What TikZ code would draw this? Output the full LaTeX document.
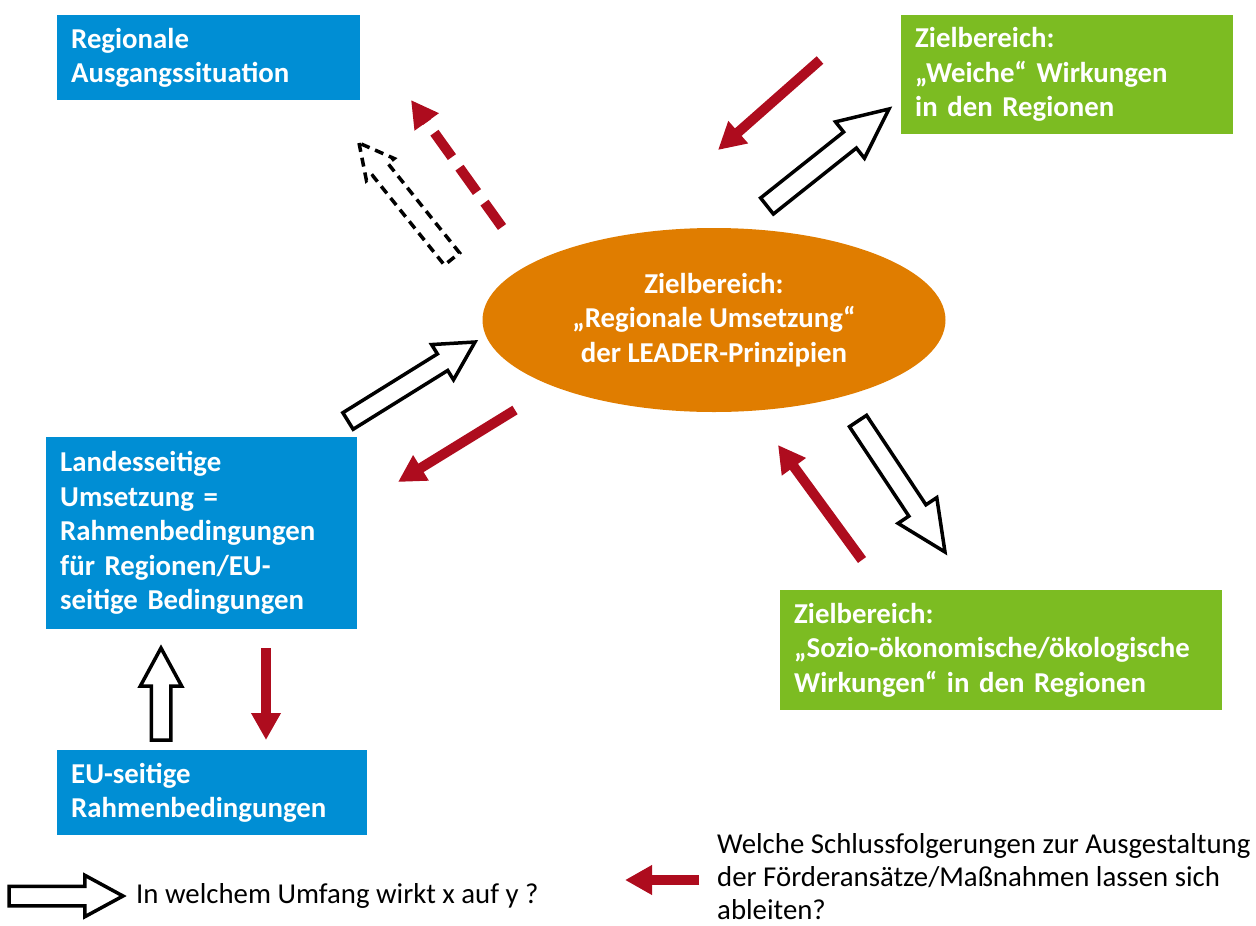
\documentclass[tikz,border=0pt]{standalone}
\usepackage{fontspec}
\setmainfont{Carlito}
\usetikzlibrary{shapes.geometric,shapes.arrows,arrows.meta,calc}
\definecolor{boxblau}{RGB}{0,142,212}
\definecolor{boxgruen}{RGB}{124,188,34}
\definecolor{ovalorange}{RGB}{224,125,0}
\definecolor{pfeilrot}{RGB}{174,12,30}
\tikzstyle{kasten}=[rectangle,anchor=north west,inner xsep=14pt,inner ysep=0pt,align=left,text=white,font=\fontsize{28.8}{34.5}\selectfont\bfseries]
\tikzstyle{blau}=[kasten,fill=boxblau]
\tikzstyle{gruen}=[kasten,fill=boxgruen]
\tikzstyle{oval}=[ellipse,fill=ovalorange,inner sep=0pt,align=center,text=white,font=\fontsize{28.8}{34.5}\selectfont\bfseries]
\tikzstyle{legende}=[anchor=west,inner sep=0pt,align=left,font=\fontsize{28.8}{33}\selectfont]
\tikzstyle{rotpfeil}=[draw=pfeilrot,line width=10pt,-{Triangle[width=28pt,length=27pt]}]
\tikzstyle{blockpfeil}=[single arrow,draw=black,fill=white,line width=3.5pt,inner xsep=0pt,inner ysep=8pt,outer sep=0pt,single arrow head extend=11pt,single arrow tip angle=57]
\tikzstyle{grosspfeil}=[inner ysep=8.5pt,single arrow head extend=13pt,single arrow tip angle=50]
\tikzstyle{strichpfeil}=[dash pattern=on 9pt off 6pt,inner ysep=8pt,single arrow head extend=8pt,single arrow tip angle=55]
\newcommand{\dickpfeil}[3][]{\path let \p1=($(#3)-(#2)$), \n1={atan2(\y1,\x1)}, \n2={veclen(\x1,\y1)} in node[blockpfeil,#1,rotate=\n1,minimum height=\n2,anchor=tail] at (#2) {};}

\begin{document}
\begin{tikzpicture}[x=1pt,y=-1pt]
\useasboundingbox (0,0) rectangle (1256,926);
\node[blau,minimum width=303pt,minimum height=85pt,text width=275pt] (ausgang) at (57,15) {Regionale\\Ausgangssituation};
\node[gruen,minimum width=332pt,minimum height=119pt,text width=304pt] (weiche) at (901,15) {Zielbereich:\\„Weiche“ Wirkungen\\in den Regionen};
\node[oval,minimum width=463pt,minimum height=184pt] (umsetzung) at (714,320) {Zielbereich:\\„Regionale Umsetzung“\\der LEADER-Prinzipien};
\node[blau,minimum width=311pt,minimum height=192pt,text width=283pt] (landes) at (46,437) {Landesseitige\\Umsetzung =\\Rahmenbedingungen\\für Regionen/EU-\\seitige Bedingungen};
\node[gruen,minimum width=442pt,minimum height=120pt,text width=414pt] (sozio) at (780,590) {Zielbereich:\\„Sozio-ökonomische/ökologische\\Wirkungen“ in den Regionen};
\node[blau,minimum width=310pt,minimum height=85pt,text width=282pt] (eu) at (57,750) {EU-seitige\\Rahmenbedingungen};
% Pfeilenden
\coordinate (p1a) at (452,259); \coordinate (p1b) at (359,143);
\coordinate (r1a) at (502,227); \coordinate (r1b) at (411,100);
\coordinate (p2a) at (767,206); \coordinate (p2b) at (889,109);
\coordinate (r2a) at (820,60);  \coordinate (r2b) at (718,150);
\coordinate (p3a) at (348,421); \coordinate (p3b) at (475,342);
\coordinate (r3a) at (515,410); \coordinate (r3b) at (398,482);
\coordinate (p4a) at (858,421); \coordinate (p4b) at (945,552);
\coordinate (r4a) at (862,560); \coordinate (r4b) at (778,445);
\coordinate (p5a) at (161,740); \coordinate (p5b) at (161,648);
\coordinate (r5a) at (266,648); \coordinate (r5b) at (266,740);
\dickpfeil[strichpfeil]{p1a}{p1b}
\draw[rotpfeil,dash pattern=on 30pt off 13pt] (r1a) -- (r1b);
\dickpfeil[grosspfeil]{p2a}{p2b}
\draw[rotpfeil] (r2a) -- (r2b);
\dickpfeil{p3a}{p3b}
\draw[rotpfeil] (r3a) -- (r3b);
\dickpfeil[grosspfeil]{p4a}{p4b}
\draw[rotpfeil] (r4a) -- (r4b);
\dickpfeil{p5a}{p5b}
\draw[rotpfeil] (r5a) -- (r5b);
% Legende
\coordinate (l1a) at (9,896); \coordinate (l1b) at (123,896);
\coordinate (l2a) at (699,880); \coordinate (l2b) at (625,880);
\dickpfeil{l1a}{l1b}
\node[legende] (wirkt) at (136,896) {In welchem Umfang wirkt x auf y ?};
\draw[rotpfeil] (l2a) -- (l2b);
\node[legende] (folgerung) at (717,877) {Welche Schlussfolgerungen zur Ausgestaltung\\der Förderansätze/Maßnahmen lassen sich\\ableiten?};
\end{tikzpicture}
\end{document}
